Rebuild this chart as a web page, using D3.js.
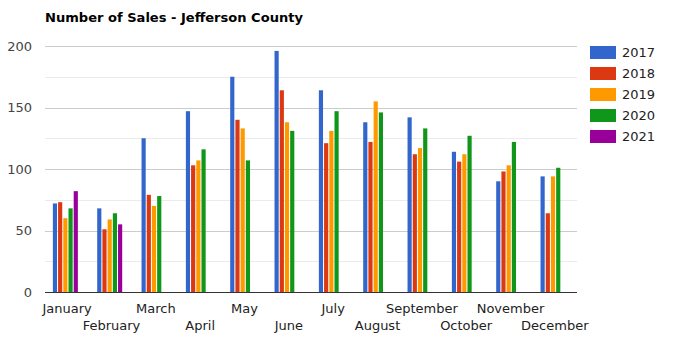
<!DOCTYPE html>
<html>
<head>
<meta charset="utf-8">
<script src="https://cdn.jsdelivr.net/npm/d3@7"></script>
<style>
  html, body { margin: 0; padding: 0; background: #fff; }
  svg { display: block; font-family: "DejaVu Sans", Verdana, sans-serif; }
</style>
</head>
<body>
<svg id="chart" width="676" height="339"></svg>
<script>
// Monthly sales counts per year
const months = ["January", "February", "March", "April", "May", "June",
                "July", "August", "September", "October", "November", "December"];
const years = ["2017", "2018", "2019", "2020", "2021"];
const sales2017 = [72, 68, 125, 147, 175, 196, 164, 138, 142, 114, 90, 94];
const sales2018 = [73, 51, 79, 103, 140, 164, 121, 122, 112, 106, 98, 64];
const sales2019 = [60, 59, 70, 107, 133, 138, 131, 155, 117, 112, 103, 94];
const sales2020 = [68, 64, 78, 116, 107, 131, 147, 146, 133, 127, 122, 101];
const sales2021 = [82, 55, null, null, null, null, null, null, null, null, null, null];
const yTicks = [0, 50, 100, 150, 200];
const yMinorTicks = [25, 75, 125, 175];
const colors = ["#3366cc", "#dc3912", "#ff9900", "#109618", "#990099"];

const seriesValues = [sales2017, sales2018, sales2019, sales2020, sales2021];

const svg = d3.select("#chart");
const plot = { left: 45, right: 577, top: 46, bottom: 292 };

const x = d3.scaleBand().domain(months).range([plot.left, plot.right]);
const y = d3.scaleLinear().domain([0, 200]).range([plot.bottom, plot.top]);

// Bars inside each month: 5 slots, 5px pitch, 4px wide
const slot = d3.scaleBand().domain(years).range([0, 25]).paddingInner(0.2);
const groupShift = -14.3; // group start relative to month centre

// Title
svg.append("text")
  .attr("x", 45).attr("y", 22)
  .attr("font-size", 13).attr("font-weight", "bold")
  .attr("fill", "#000")
  .attr("textLength", 258).attr("lengthAdjust", "spacingAndGlyphs")
  .text("Number of Sales - Jefferson County");

// Gridlines
svg.append("g").selectAll("line").data(yMinorTicks).join("line")
  .attr("x1", plot.left).attr("x2", plot.right)
  .attr("y1", d => Math.round(y(d)) + 0.5).attr("y2", d => Math.round(y(d)) + 0.5)
  .attr("stroke", "#ebebeb");
svg.append("g").selectAll("line").data(yTicks.filter(d => d > 0)).join("line")
  .attr("x1", plot.left).attr("x2", plot.right)
  .attr("y1", d => Math.round(y(d)) + 0.5).attr("y2", d => Math.round(y(d)) + 0.5)
  .attr("stroke", "#cccccc");

// Y axis labels
svg.append("g").selectAll("text").data(yTicks).join("text")
  .attr("x", 32).attr("y", d => y(d))
  .attr("dy", "0.36em").attr("text-anchor", "end")
  .attr("font-size", 13).attr("fill", "#444")
  .text(d => d);

// Bars
const barData = [];
seriesValues.forEach((vals, si) => {
  vals.forEach((v, mi) => {
    if (v != null) barData.push({ month: months[mi], year: years[si], value: v, si });
  });
});
svg.append("g").selectAll("rect").data(barData).join("rect")
  .attr("x", d => x(d.month) + x.bandwidth() / 2 + groupShift + slot(d.year))
  .attr("width", slot.bandwidth())
  .attr("y", d => y(d.value))
  .attr("height", d => y(0) - y(d.value))
  .attr("fill", d => colors[d.si]);

// Baseline
svg.append("line")
  .attr("x1", plot.left).attr("x2", plot.right)
  .attr("y1", plot.bottom + 0.5).attr("y2", plot.bottom + 0.5)
  .attr("stroke", "#333");

// X axis labels, staggered on two rows
svg.append("g").selectAll("text").data(months).join("text")
  .attr("x", d => x(d) + x.bandwidth() / 2)
  .attr("y", (d, i) => i % 2 === 0 ? 313 : 330)
  .attr("text-anchor", "middle")
  .attr("font-size", 13).attr("fill", "#222")
  .text(d => d);

// Legend
const legend = svg.append("g").selectAll("g").data(years).join("g")
  .attr("transform", (d, i) => `translate(590, ${46 + i * 21})`);
legend.append("rect")
  .attr("width", 26).attr("height", 13)
  .attr("fill", (d, i) => colors[i]);
legend.append("text")
  .attr("x", 32).attr("y", 6.5).attr("dy", "0.36em")
  .attr("font-size", 13).attr("fill", "#222")
  .text(d => d);
</script>
</body>
</html>
